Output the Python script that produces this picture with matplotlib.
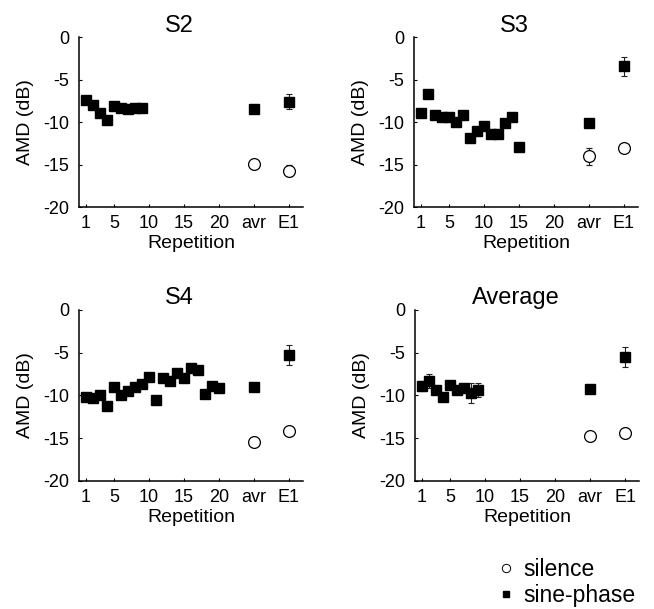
import numpy as np
import matplotlib
matplotlib.use("Agg")
from matplotlib import pyplot as plt
from matplotlib.lines import Line2D

plt.rcParams["font.family"] = ["Liberation Sans", "DejaVu Sans"]
plt.rcParams["axes.unicode_minus"] = False

# x positions of the summary points
X_AVR = 25
X_E1 = 30

xtick_pos = [1, 5, 10, 15, 20, X_AVR, X_E1]
xtick_labels = ["1", "5", "10", "15", "20", "avr", "E1"]
ytick_pos = [0, -5, -10, -15, -20]

panel_titles = ["S2", "S3", "S4", "Average"]

# sine-phase AMD per repetition
s2_reps = [-7.4, -8.0, -8.9, -9.8, -8.1, -8.3, -8.4, -8.3, -8.3]
s3_reps = [-8.9, -6.7, -9.2, -9.4, -9.4, -10.0, -9.2, -11.9, -11.1, -10.4,
           -11.4, -11.4, -10.1, -9.45, -12.9]
s4_reps = [-10.2, -10.3, -10.0, -11.2, -9.0, -10.0, -9.5, -9.0, -8.7, -7.8,
           -10.5, -8.0, -8.3, -7.4, -8.0, -6.8, -7.0, -9.8, -8.9, -9.1]
avg_reps = [-8.9, -8.3, -9.4, -10.2, -8.8, -9.4, -9.1, -9.7, -9.4]
avg_reps_err = [0.6, 0.8, 0.3, 0.3, 0.3, 0.4, 0.3, 1.2, 0.8]

# summary points: [avr, E1]
sine_summary = [[-8.4, -7.6], [-10.1, -3.45], [-9.0, -5.3], [-9.2, -5.5]]
sine_summary_err = [[0, 0.9], [0, 1.15], [0, 1.2], [0.3, 1.2]]
silence_summary = [[-14.9, -15.7], [-14.0, -13.05], [-15.4, -14.1], [-14.8, -14.4]]
silence_summary_err = [[0, 0.65], [1.0, 0], [0, 0], [0, 0.6]]

rep_values = [s2_reps, s3_reps, s4_reps, avg_reps]
rep_errors = [None, None, None, avg_reps_err]

fig = plt.figure(figsize=(6.54, 6.09), dpi=100)

axes_rects = [
    [0.1208, 0.660, 0.3425, 0.279],
    [0.6330, 0.660, 0.3425, 0.279],
    [0.1208, 0.2102, 0.3425, 0.281],
    [0.6346, 0.2102, 0.3425, 0.281],
]

err_kw = dict(ecolor="#222222", elinewidth=0.8, capsize=2.5, capthick=0.8)

for i, rect in enumerate(axes_rects):
    ax = fig.add_axes(rect)

    reps = np.arange(1, len(rep_values[i]) + 1)
    if rep_errors[i] is None:
        ax.plot(reps, rep_values[i], "s", color="black", markersize=7, zorder=3)
    else:
        ax.errorbar(reps, rep_values[i], yerr=rep_errors[i], fmt="s", color="black",
                    markersize=7, zorder=3, **err_kw)

    xs = [X_AVR, X_E1]
    ax.errorbar(xs, sine_summary[i], yerr=sine_summary_err[i], fmt="s", color="black",
                markersize=7, zorder=3, **err_kw)
    ax.errorbar(xs, silence_summary[i], yerr=silence_summary_err[i], fmt="o",
                color="black", markerfacecolor="white", markersize=8.5,
                markeredgewidth=0.9, zorder=3, **err_kw)

    ax.set_xlim(0, 32)
    ax.set_ylim(-20, 0)
    ax.set_xticks(xtick_pos)
    ax.set_xticklabels(xtick_labels)
    ax.set_yticks(ytick_pos)
    ax.spines["top"].set_visible(False)
    ax.spines["right"].set_visible(False)
    ax.spines["left"].set_linewidth(1.1)
    ax.spines["bottom"].set_linewidth(1.1)
    ax.tick_params(axis="both", direction="in", length=2.5, width=0.8, labelsize=13)
    ax.tick_params(axis="x", pad=6)
    ax.tick_params(axis="y", pad=7)
    ax.set_title(panel_titles[i], fontsize=17, x=0.45, pad=4)
    ax.set_xlabel("Repetition", fontsize=14, labelpad=2)
    ax.set_ylabel("AMD (dB)", fontsize=14, labelpad=7)

handles = [
    Line2D([], [], ls="none", marker="o", color="black", markerfacecolor="white",
           markersize=6, markeredgewidth=0.7),
    Line2D([], [], ls="none", marker="s", color="black", markersize=5),
]
fig.legend(handles, ["silence", "sine-phase"], loc="upper left",
           bbox_to_anchor=(0.7645, 0.083), frameon=False, fontsize=16.5,
           handlelength=0.5, handletextpad=0.5, labelspacing=0.12,
           borderpad=0, borderaxespad=0)

fig.savefig("out.png", dpi=100)
